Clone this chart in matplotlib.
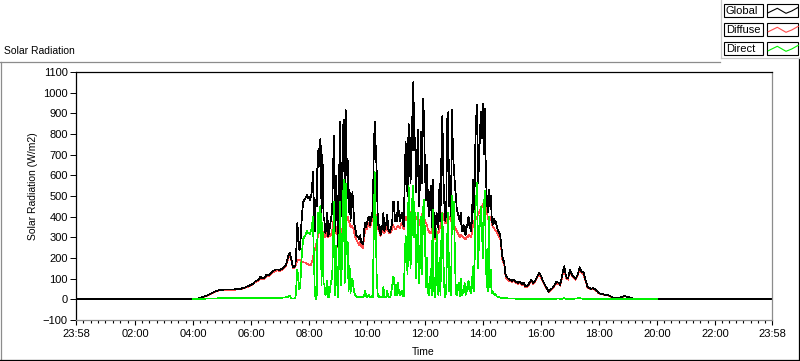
#!/usr/bin/env python3
"""
Solar radiation chart (LabVIEW style) - Global / Diffuse / Direct over one day
"""

import numpy as np
import matplotlib
matplotlib.use('Agg')
import matplotlib.pyplot as plt
from matplotlib.lines import Line2D
from matplotlib.patches import Rectangle

plt.rcParams['font.family'] = ['Liberation Sans', 'DejaVu Sans']
plt.rcParams['font.size'] = 8

W, H = 800, 361

# sample times (minutes from midnight): 4 min steps in the quiet hours,
# 2 min steps between 07:00 and 15:00 where the clouds make it spiky
times = np.concatenate([np.arange(240, 420, 4),
                        np.arange(420, 900, 2),
                        np.arange(900, 1201, 4)])

global_w = [
    # 04-06 (4 min)
    0, 1, 3, 5, 8, 11, 14, 18, 22, 27, 32, 36, 40, 43, 46,
    46, 47, 47, 48, 47, 48, 48, 49, 50, 50, 52, 55, 58, 62, 65,
    70, 75, 86, 90, 95, 110, 100, 105, 118, 115, 125, 135, 140, 145, 145,
    # 07-14 (2 min)
    140, 145, 148, 150, 155, 160, 165, 180, 200, 215, 226, 210, 190, 165, 155,
    160, 165, 250, 370, 300, 240, 250, 355, 420, 470, 480, 485, 495, 505, 490,
    495, 480, 500, 520, 615, 470, 330, 480, 450, 720, 640, 760, 777, 420, 700,
    400, 380, 320, 355, 420, 305, 330, 360, 400, 420, 650, 790, 330, 600, 450,
    255, 500, 860, 400, 480, 820, 870, 450, 915, 600, 680, 420, 530, 380, 450,
    520, 435, 360, 340, 310, 305, 300, 290, 310, 275, 270, 265, 330, 370, 350,
    370, 390, 400, 360, 380, 420, 400, 700, 860, 750, 630, 420, 340, 360, 310,
    330, 360, 420, 330, 350, 370, 410, 340, 330, 325, 350, 360, 470, 470, 380,
    400, 380, 470, 420, 380, 400, 420, 370, 355, 560, 760, 600, 500, 850, 825,
    560, 665, 900, 1054, 720, 780, 520, 710, 820, 450, 600, 810, 560, 970, 880,
    620, 480, 650, 500, 400, 480, 550, 350, 580, 420, 300, 360, 420, 380, 340,
    560, 380, 700, 890, 600, 470, 380, 420, 870, 905, 450, 600, 400, 915, 700,
    630, 550, 500, 430, 420, 390, 380, 420, 330, 350, 360, 320, 310, 360, 350,
    400, 380, 340, 330, 450, 580, 420, 730, 880, 940, 560, 665, 820, 905, 780,
    945, 700, 920, 600, 480, 420, 530, 450, 500, 400, 360, 390, 370, 380, 360,
    340, 330, 320, 305, 260, 210, 190, 180, 130, 110, 105, 100, 98, 95, 92,
    # 15-20 (4 min)
    90, 95, 85, 80, 85, 75, 80, 62, 65, 80, 95, 80, 90, 110, 128,
    115, 90, 70, 55, 37, 46, 55, 70, 85, 80, 70, 120, 160, 110, 100,
    145, 120, 110, 100, 120, 155, 135, 130, 95, 62, 55, 50, 55, 48, 40,
    30, 27, 25, 22, 22, 20, 15, 10, 8, 8, 7, 8, 12, 15, 14,
    12, 8, 5, 4, 3, 3, 4, 3, 2, 3, 2, 2, 1, 1, 1,
    0,
]

diffuse_w = [
    0, 1, 3, 5, 7, 10, 13, 17, 20, 25, 30, 34, 38, 41, 44,
    44, 45, 45, 46, 45, 46, 46, 47, 48, 48, 50, 52, 55, 59, 62,
    67, 72, 82, 86, 90, 104, 96, 100, 112, 110, 118, 128, 134, 138, 140,
    135, 140, 142, 146, 150, 155, 160, 175, 190, 205, 215, 200, 185, 160, 150,
    155, 160, 175, 185, 190, 190, 188, 182, 180, 180, 178, 178, 175, 172, 170,
    168, 166, 165, 180, 200, 220, 240, 260, 275, 300, 320, 340, 350, 345, 330,
    320, 305, 300, 320, 330, 300, 320, 305, 315, 330, 370, 390, 320, 340, 350,
    250, 300, 340, 330, 320, 360, 385, 370, 360, 380, 400, 380, 370, 350, 355,
    350, 340, 320, 300, 290, 280, 270, 260, 280, 255, 250, 250, 300, 330, 340,
    340, 360, 370, 350, 360, 390, 380, 400, 420, 410, 400, 370, 330, 340, 305,
    320, 330, 340, 320, 330, 340, 350, 330, 320, 320, 330, 335, 360, 350, 340,
    340, 350, 355, 350, 345, 360, 370, 350, 340, 380, 400, 390, 380, 420, 430,
    410, 410, 430, 435, 420, 400, 395, 390, 380, 360, 380, 400, 410, 420, 400,
    380, 370, 360, 340, 330, 320, 320, 330, 350, 320, 290, 310, 330, 320, 320,
    340, 360, 400, 420, 400, 380, 370, 370, 390, 400, 400, 390, 380, 370, 360,
    360, 350, 340, 330, 320, 310, 300, 310, 310, 305, 300, 295, 290, 300, 300,
    310, 310, 305, 300, 340, 370, 380, 385, 390, 400, 410, 420, 430, 440, 450,
    460, 465, 470, 440, 420, 400, 380, 390, 400, 370, 350, 345, 340, 335, 330,
    320, 310, 300, 290, 240, 195, 180, 170, 125, 100, 96, 92, 90, 88, 86,
    85, 90, 80, 75, 80, 70, 75, 58, 60, 75, 88, 75, 85, 104, 120,
    108, 85, 66, 52, 35, 43, 52, 66, 80, 75, 66, 112, 150, 104, 95,
    138, 114, 104, 95, 114, 148, 128, 122, 90, 58, 52, 47, 52, 45, 38,
    28, 25, 23, 20, 20, 18, 14, 9, 7, 7, 6, 7, 11, 14, 13,
    11, 7, 5, 4, 3, 3, 4, 3, 2, 3, 2, 2, 1, 1, 1,
    0,
]

direct_w = [
    0, 2, 3, 3, 3, 3, 3, 4, 4, 4, 4, 4, 4, 5, 5,
    5, 5, 5, 5, 5, 5, 5, 5, 5, 6, 6, 6, 6, 6, 6,
    6, 6, 7, 7, 7, 7, 7, 7, 7, 7, 7, 7, 8, 8, 8,
    8, 8, 8, 9, 9, 9, 10, 10, 12, 15, 17, 10, 5, 4, 4,
    5, 6, 70, 145, 100, 50, 60, 170, 240, 290, 300, 305, 320, 330, 320,
    320, 315, 335, 340, 400, 210, 40, 0, 20, 420, 320, 440, 450, 70, 370,
    80, 70, 20, 30, 90, 10, 15, 60, 90, 100, 300, 470, 20, 260, 100,
    10, 200, 470, 70, 160, 460, 580, 80, 560, 220, 280, 40, 160, 30, 95,
    100, 60, 30, 20, 15, 10, 12, 10, 12, 10, 8, 10, 15, 40, 20,
    10, 15, 20, 8, 10, 15, 12, 300, 615, 400, 120, 30, 12, 15, 8,
    10, 12, 60, 10, 12, 9, 40, 15, 10, 10, 30, 60, 110, 100, 20,
    70, 20, 80, 40, 20, 30, 40, 15, 15, 180, 305, 200, 120, 550, 470,
    150, 250, 500, 550, 300, 420, 100, 300, 420, 80, 220, 400, 120, 435, 480,
    300, 60, 200, 40, 20, 60, 150, 20, 435, 100, 10, 50, 340, 40, 20,
    200, 20, 300, 420, 200, 60, 10, 40, 300, 420, 40, 150, 20, 500, 340,
    470, 200, 30, 20, 60, 80, 15, 100, 20, 45, 30, 80, 20, 60, 40,
    90, 70, 35, 30, 110, 160, 40, 420, 490, 565, 150, 305, 390, 450, 330,
    200, 450, 525, 160, 80, 40, 400, 60, 145, 30, 40, 30, 20, 25, 15,
    12, 10, 10, 8, 8, 6, 6, 5, 5, 5, 5, 4, 4, 4, 4,
    4, 4, 3, 3, 3, 3, 3, 3, 3, 3, 3, 3, 3, 3, 3,
    3, 3, 3, 3, 3, 3, 3, 3, 3, 4, 3, 3, 5, 3, 3,
    3, 3, 3, 4, 5, 6, 4, 3, 3, 2, 2, 2, 2, 2, 2,
    2, 2, 2, 2, 2, 2, 2, 2, 2, 2, 2, 2, 2, 2, 2,
    2, 2, 2, 2, 2, 2, 2, 2, 2, 2, 2, 2, 2, 2, 2,
    2,
]

# time axis: 23:58 (previous day) .. 23:58
t_first, t_last = -2, 1438
xtick_pos = [-2, 120, 240, 360, 480, 600, 720, 840, 960, 1080, 1200, 1320, 1438]
xtick_lbl = ['23:58', '02:00', '04:00', '06:00', '08:00', '10:00', '12:00',
             '14:00', '16:00', '18:00', '20:00', '22:00', '23:58']
ytick_pos = list(range(-100, 1101, 100))

legend_names = ['Global', 'Diffuse', 'Direct']
colors = {'Global': 'black', 'Diffuse': '#ff4a4a', 'Direct': '#00f000'}


def fx(px):
    return px / W


def fy(py):
    return 1 - py / H


def create_chart():
    fig = plt.figure(figsize=(W / 100, H / 100), dpi=100)
    fig.patch.set_facecolor('white')

    ax = fig.add_axes([fx(76), fy(320), (772 - 76) / W, (320 - 72) / H])

    # global is zero through the night, on both sides of the day record
    glob_t = np.concatenate([[t_first], times, [t_last]])
    glob_v = np.concatenate([[0], global_w, [0]])

    lw = 0.5  # thin, aliased trace like the instrument panel
    ax.plot(times, diffuse_w, color=colors['Diffuse'], lw=lw, antialiased=False)
    ax.plot(glob_t, glob_v, color=colors['Global'], lw=lw, antialiased=False)
    ax.plot(times, direct_w, color=colors['Direct'], lw=lw, antialiased=False)

    ax.set_xlim(t_first, t_last)
    ax.set_ylim(-100, 1100)

    ax.set_yticks(ytick_pos)
    ax.set_xticks(xtick_pos)
    ax.set_xticklabels(xtick_lbl)
    # 7 minor ticks between each pair of labelled ticks
    minors = []
    for a, b in zip(xtick_pos[:-1], xtick_pos[1:]):
        minors += list(np.linspace(a, b, 9)[1:-1])
    ax.set_xticks(minors, minor=True)

    ax.tick_params(axis='y', direction='out', length=4.5, width=0.7, pad=1.5, labelsize=8)
    ax.tick_params(axis='x', which='major', direction='out', length=3.5, width=0.8, pad=3, labelsize=8)
    ax.tick_params(axis='x', which='minor', direction='out', length=1.8, width=0.8)

    # sunken frame: dark top/left, grey bottom/right
    ax.spines['left'].set_color('black')
    ax.spines['top'].set_color('black')
    ax.spines['right'].set_color('#8c8c8c')
    ax.spines['bottom'].set_color('#8c8c8c')
    for s in ax.spines.values():
        s.set_linewidth(0.9)

    fig.text(fx(33), fy(186), 'Solar Radiation (W/m2)', rotation=90,
             ha='center', va='center', fontsize=7.5)
    fig.text(fx(423), fy(352), 'Time', ha='center', va='center', fontsize=7.5)
    fig.text(fx(4), fy(51), 'Solar Radiation', ha='left', va='center', fontsize=7.5)

    # outer graph frame
    frame = [
        ((0, 720), (61.5, 61.5), '#8c8c8c'),
        ((0.5, 0.5), (61.5, 361), '#8c8c8c'),
        ((0, 799), (359.5, 359.5), 'black'),
        ((798.5, 798.5), (58, 360), 'black'),
        ((721, 721), (0, 58), '#c8c8c8'),
        ((721, 800), (58, 58), '#c8c8c8'),
    ]
    for xs, ys, c in frame:
        fig.add_artist(Line2D([fx(x) for x in xs], [fy(y) for y in ys],
                              color=c, lw=0.9))

    # plot legend, top right
    zig = [(1.3, 8.7), (10.3, 4.3), (19, 9.3), (24.7, 7), (31.3, 3.3)]
    for i, name in enumerate(legend_names):
        top = 4 + 19 * i
        fig.add_artist(Rectangle((fx(724), fy(top + 13)), 39 / W, 13 / H,
                                 facecolor='white', edgecolor='black', lw=0.8))
        fig.text(fx(726), fy(top + 6.8), name, ha='left', va='center', fontsize=8)
        fig.add_artist(Rectangle((fx(767), fy(top + 13)), 31 / W, 13 / H,
                                 facecolor='white', edgecolor='black', lw=0.8))
        fig.add_artist(Line2D([fx(767 + p[0]) for p in zig],
                              [fy(top + p[1]) for p in zig],
                              color=colors[name], lw=0.8))
    return fig


def main():
    fig = create_chart()
    fig.savefig('out.png', dpi=100)


if __name__ == "__main__":
    main()
